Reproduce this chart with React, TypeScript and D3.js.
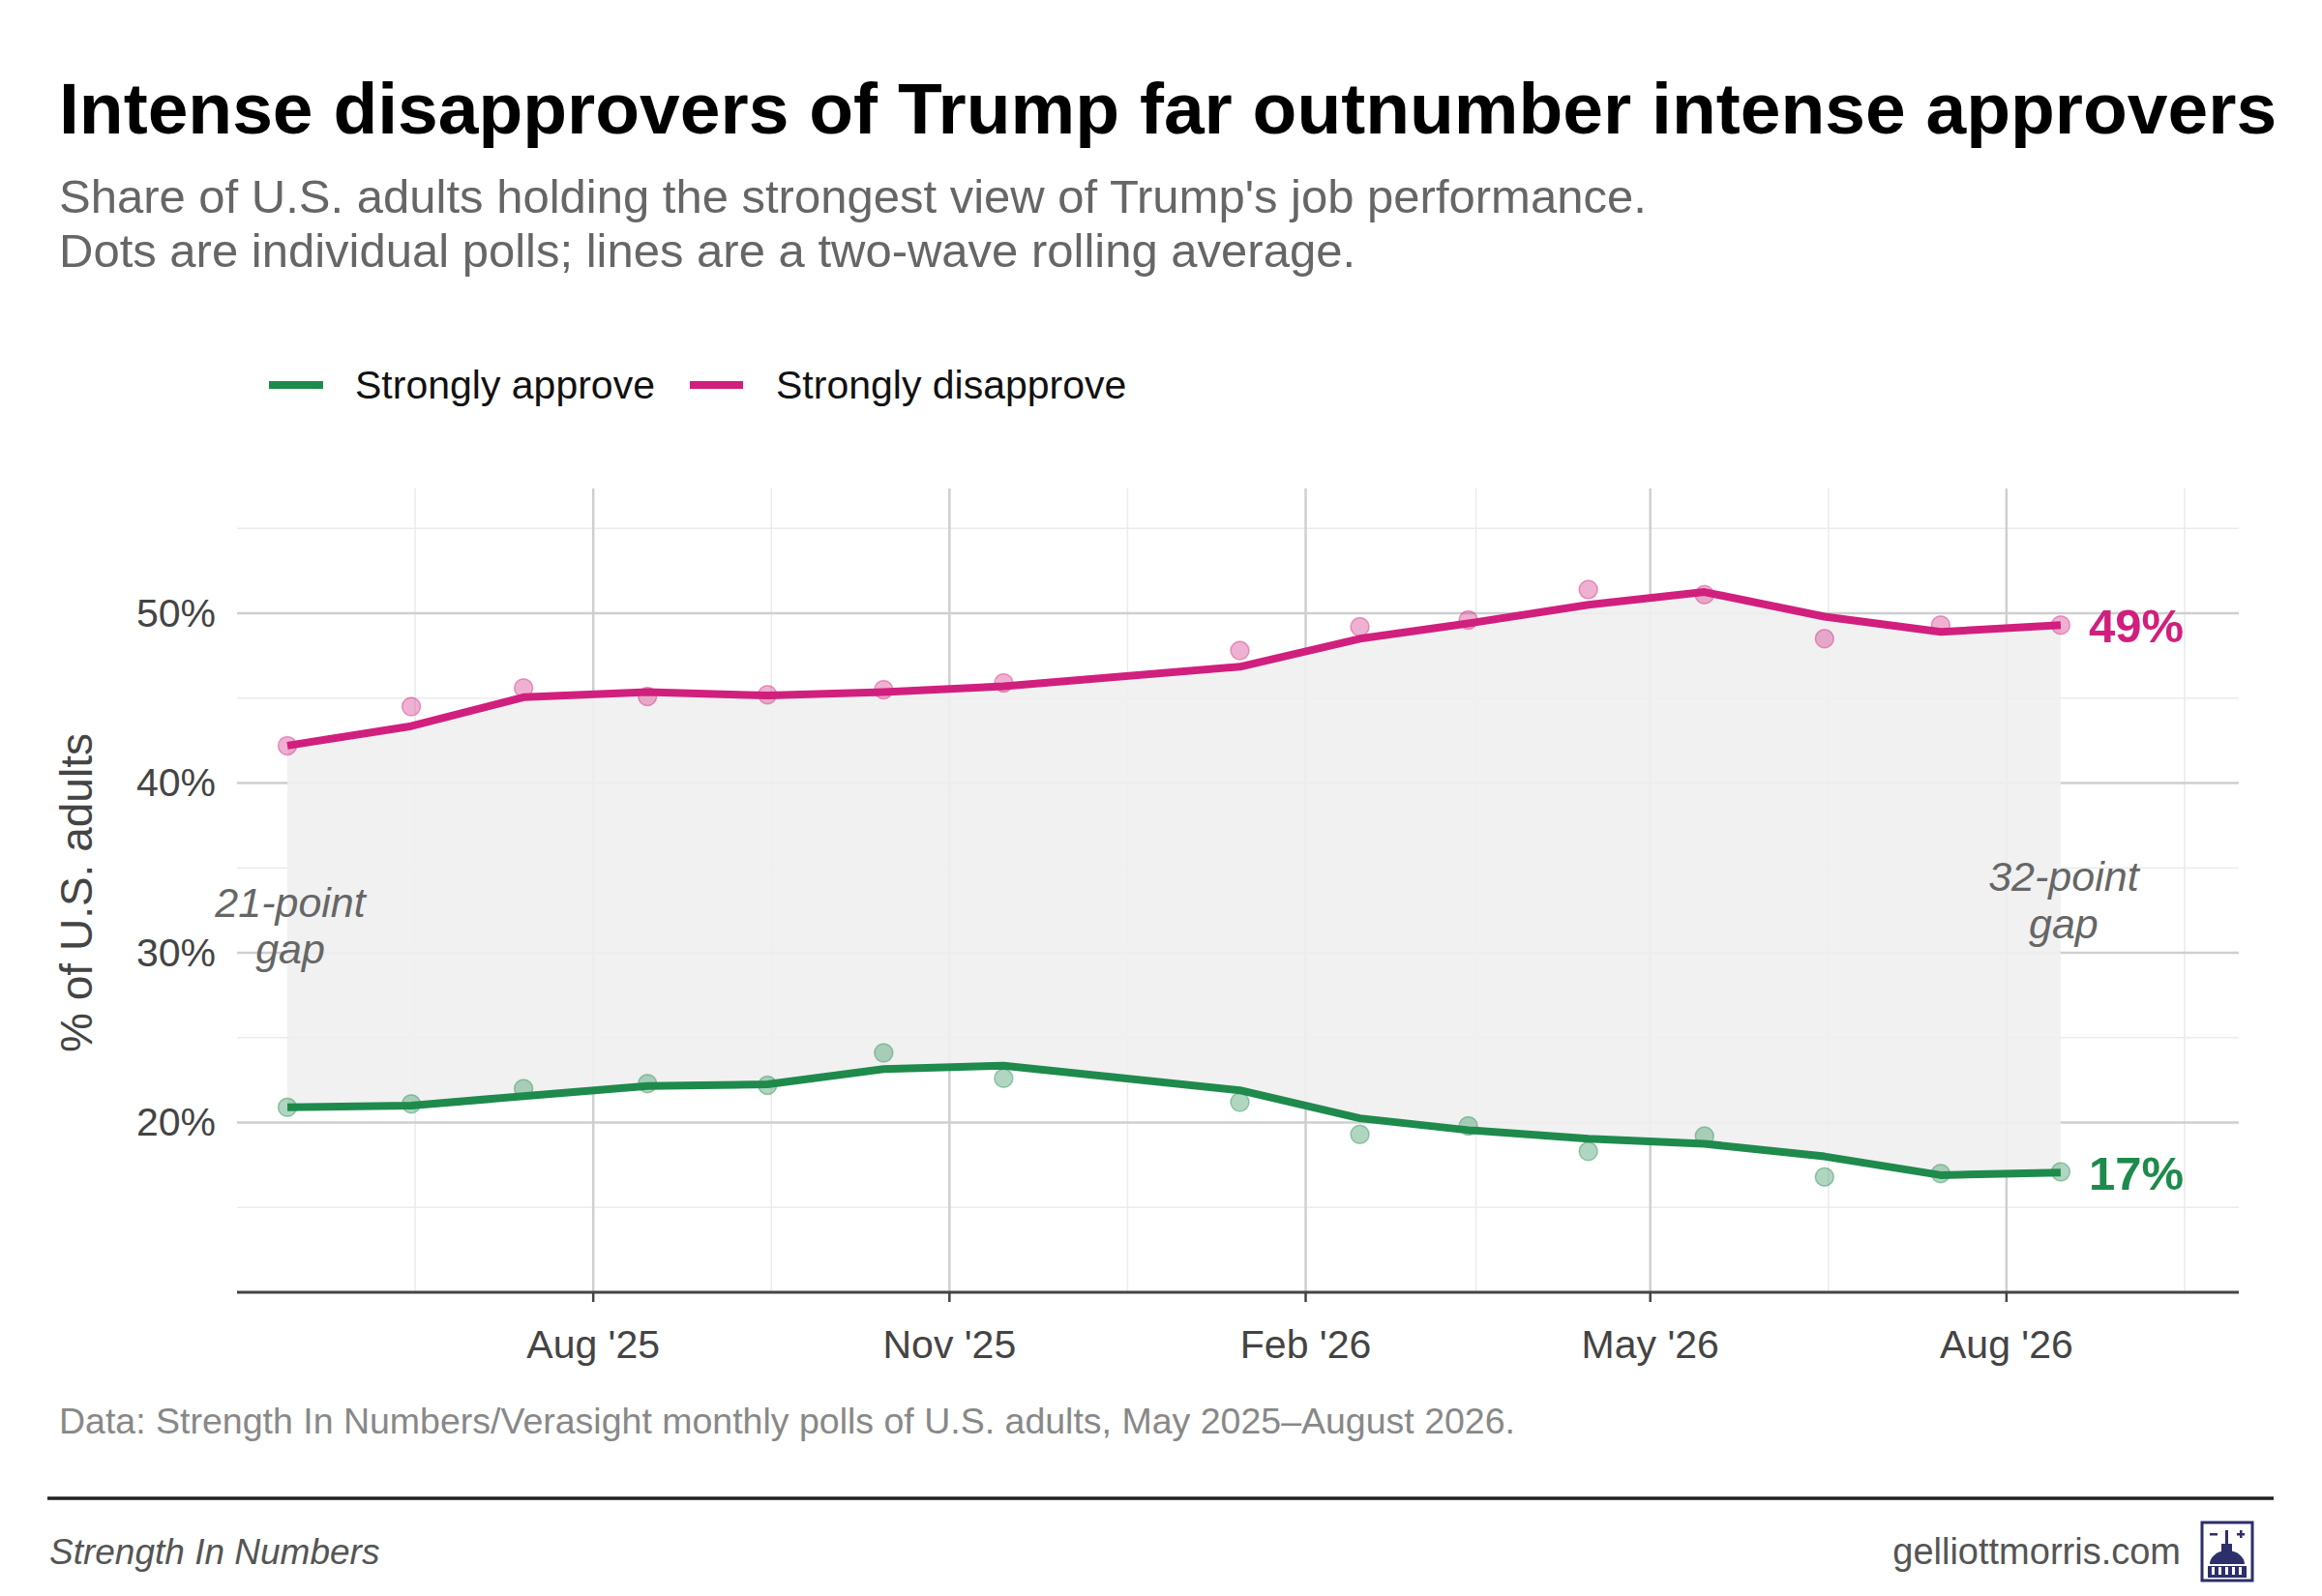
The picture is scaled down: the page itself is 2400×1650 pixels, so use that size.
import React from "react";
import * as d3 from "d3";

const dates = ["2025-05-14","2025-06-15","2025-07-14","2025-08-15","2025-09-15","2025-10-15","2025-11-15","2026-01-15","2026-02-15","2026-03-15","2026-04-15","2026-05-15","2026-06-15","2026-07-15","2026-08-15"];
const approvePolls = [20.9,21.1,22.0,22.3,22.2,24.1,22.6,21.2,19.3,19.8,18.3,19.2,16.8,17.0,17.1];
const disapprovePolls = [42.2,44.5,45.6,45.1,45.2,45.5,45.9,47.8,49.2,49.6,51.4,51.1,48.5,49.3,49.3];
const approveAvg = [20.9,21.0,21.55,22.15,22.25,23.15,23.35,21.9,20.25,19.55,19.05,18.75,18.0,16.9,17.05];
const disapproveAvg = [42.2,43.35,45.05,45.35,45.15,45.35,45.7,46.85,48.5,49.4,50.5,51.25,49.8,48.9,49.3];
const yTicks = [20,30,40,50];
const yMinor = [15,25,35,45,55];
const xTicks = ["2025-08-01","2025-11-01","2026-02-01","2026-05-01","2026-08-01"];
const xTickLabels = ["Aug '25","Nov '25","Feb '26","May '26","Aug '26"];
const xMinor = ["2025-06-16","2025-09-16","2025-12-17","2026-03-17","2026-06-16","2026-09-16"];

const GREEN = "#1e8a4c";
const PINK = "#d11f7e";
const F = "'Liberation Sans', Arial, sans-serif";

export default function App() {
  const pd = d3.utcParse("%Y-%m-%d");
  const L = 245, R = 2314, B = 1336, T = 505;
  const X = d3.scaleUtc().domain([pd("2025-05-01")!, pd("2026-09-30")!]).range([L, R]);
  const Y = d3.scaleLinear().domain([10, 57.35]).range([B, T]);
  const xs = dates.map((d) => X(pd(d)!));
  const line = d3.line<number>().x((_, i) => xs[i]).y((v) => Y(v));
  const area = d3.area<number>().x((_, i) => xs[i]).y0((_, i) => Y(approveAvg[i])).y1((v) => Y(v));
  const last = xs.length - 1;
  return (
    <svg width={2400} height={1650} style={{ position: "absolute", left: 0, top: 0, background: "#fff" }} fontFamily={F}>
      <rect width={2400} height={1650} fill="#fff" />
      <text x={61} y={138} fontSize={75} fontWeight="bold" fill="#000">Intense disapprovers of Trump far outnumber intense approvers</text>
      <text x={61} y={220} fontSize={49} fill="#666">Share of U.S. adults holding the strongest view of Trump's job performance.</text>
      <text x={61} y={276} fontSize={49} fill="#666">Dots are individual polls; lines are a two-wave rolling average.</text>
      <line x1={278} x2={334} y1={398} y2={398} stroke={GREEN} strokeWidth={8} />
      <text x={367} y={412} fontSize={41} fill="#111">Strongly approve</text>
      <line x1={713} x2={768} y1={398} y2={398} stroke={PINK} strokeWidth={8} />
      <text x={802} y={412} fontSize={41} fill="#111">Strongly disapprove</text>
      {yMinor.map((v) => <line key={"ym" + v} x1={L} x2={R} y1={Y(v)} y2={Y(v)} stroke="#ebebeb" strokeWidth={1.5} />)}
      {xMinor.map((d) => <line key={"xm" + d} x1={X(pd(d)!)} x2={X(pd(d)!)} y1={T} y2={B} stroke="#ebebeb" strokeWidth={1.5} />)}
      {yTicks.map((v) => <line key={"y" + v} x1={L} x2={R} y1={Y(v)} y2={Y(v)} stroke="#cfcfcf" strokeWidth={2.5} />)}
      {xTicks.map((d) => <line key={"x" + d} x1={X(pd(d)!)} x2={X(pd(d)!)} y1={T} y2={B} stroke="#cfcfcf" strokeWidth={2.5} />)}
      <path d={area(disapproveAvg)!} fill="#efefef" opacity={0.9} />
      {approvePolls.map((v, i) => <circle key={"a" + i} cx={xs[i]} cy={Y(v)} r={9.5} fill={GREEN} fillOpacity={0.35} stroke={GREEN} strokeOpacity={0.4} strokeWidth={1.5} />)}
      {disapprovePolls.map((v, i) => <circle key={"d" + i} cx={xs[i]} cy={Y(v)} r={9.5} fill={PINK} fillOpacity={0.35} stroke={PINK} strokeOpacity={0.4} strokeWidth={1.5} />)}
      <path d={line(approveAvg)!} fill="none" stroke={GREEN} strokeWidth={8} strokeLinejoin="round" />
      <path d={line(disapproveAvg)!} fill="none" stroke={PINK} strokeWidth={8} strokeLinejoin="round" />
      <text x={xs[last] + 29} y={Y(disapproveAvg[last]) + 18} fontSize={49} fontWeight="bold" fill={PINK}>49%</text>
      <text x={xs[last] + 29} y={Y(approveAvg[last]) + 18} fontSize={49} fontWeight="bold" fill={GREEN}>17%</text>
      <text x={xs[0] + 3} y={948} fontSize={43} fontStyle="italic" fill="#666" textAnchor="middle">21-point</text>
      <text x={xs[0] + 3} y={996} fontSize={43} fontStyle="italic" fill="#666" textAnchor="middle">gap</text>
      <text x={xs[last] + 3} y={921} fontSize={43} fontStyle="italic" fill="#666" textAnchor="middle">32-point</text>
      <text x={xs[last] + 3} y={970} fontSize={43} fontStyle="italic" fill="#666" textAnchor="middle">gap</text>
      <line x1={L} x2={R} y1={B} y2={B} stroke="#444" strokeWidth={3} />
      {xTicks.map((d, i) => (
        <g key={"xt" + d}>
          <line x1={X(pd(d)!)} x2={X(pd(d)!)} y1={B} y2={B + 10} stroke="#444" strokeWidth={2.5} />
          <text x={X(pd(d)!)} y={1404} fontSize={41} fill="#444" textAnchor="middle">{xTickLabels[i]}</text>
        </g>
      ))}
      {yTicks.map((v) => <text key={"yl" + v} x={223} y={Y(v) + 14} fontSize={41} fill="#444" textAnchor="end">{v}%</text>)}
      <text transform="translate(95,923) rotate(-90)" fontSize={46} fill="#444" textAnchor="middle">% of U.S. adults</text>
      <text x={61} y={1482} fontSize={37.5} fill="#888">Data: Strength In Numbers/Verasight monthly polls of U.S. adults, May 2025–August 2026.</text>
      <line x1={49} x2={2350} y1={1549} y2={1549} stroke="#222" strokeWidth={3.5} />
      <text x={51} y={1617} fontSize={37} fontStyle="italic" fill="#555">Strength In Numbers</text>
      <text x={2254} y={1617} fontSize={38} fill="#555" textAnchor="end">gelliottmorris.com</text>
      <g fill="#2d2f6b" stroke="#2d2f6b">
        <rect x={2276} y={1574} width={52} height={60} fill="none" strokeWidth={3} />
        <rect x={2284} y={1585} width={8} height={2.5} stroke="none" />
        <rect x={2312} y={1585} width={8} height={2.5} stroke="none" />
        <rect x={2315} y={1582} width={2.5} height={8} stroke="none" />
        <rect x={2300} y={1582} width={3} height={14} stroke="none" />
        <path d="M2296,1596 h11 v8 h-11 z" stroke="none" />
        <path d="M2284,1617 a18,14 0 0 1 36,0 z" stroke="none" />
        <rect x={2282} y={1619} width={40} height={12} stroke="none" />
        {[0, 1, 2, 3, 4].map((k) => <rect key={k} x={2286 + k * 7} y={1620} width={3} height={8} fill="#fff" stroke="none" />)}
      </g>
    </svg>
  );
}
